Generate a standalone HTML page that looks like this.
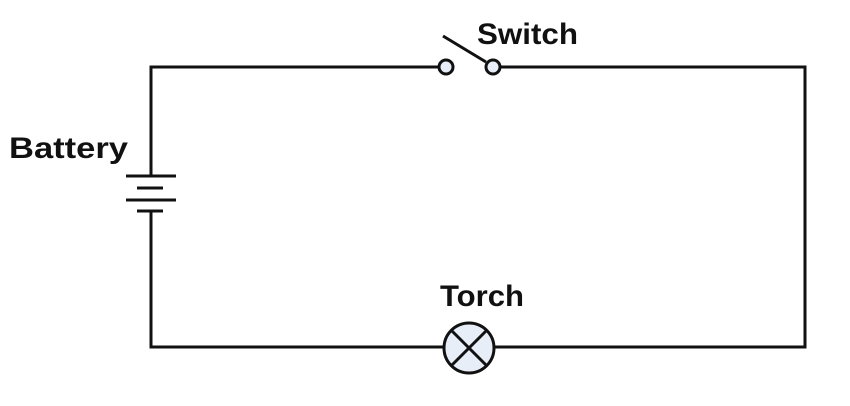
<!DOCTYPE html>
<html><head><style>body{margin:0;background:#fff}svg{display:block}</style></head><body>
<svg width="850" height="406" xmlns="http://www.w3.org/2000/svg">
<g stroke="#111" stroke-width="3" fill="none" stroke-linecap="butt">
<path d="M439 67 H151 V176"/>
<path d="M151 211 V347 H444"/>
<path d="M494 347 H805 V67 H500"/>
<line x1="126" y1="176" x2="176" y2="176"/>
<line x1="137" y1="188" x2="163" y2="188"/>
<line x1="126" y1="200" x2="176" y2="200"/>
<line x1="137" y1="211" x2="163" y2="211"/>
<line x1="443" y1="36" x2="486" y2="62"/>
<circle cx="446" cy="67" r="7" fill="#e8eef8"/>
<circle cx="493" cy="67" r="7" fill="#e8eef8"/>
<circle cx="469" cy="348" r="25" fill="#e8eef8"/>
<line x1="451" y1="330" x2="487" y2="366"/>
<line x1="487" y1="330" x2="451" y2="366"/>
</g>
<g font-family="Liberation Sans, sans-serif" font-weight="bold" font-size="30" fill="#111">
<text x="477" y="44" textLength="101" lengthAdjust="spacingAndGlyphs">Switch</text>
<text x="9" y="158" textLength="119" lengthAdjust="spacingAndGlyphs">Battery</text>
<text x="440" y="306" textLength="84" lengthAdjust="spacingAndGlyphs">Torch</text>
</g>
</svg>
</body></html>
